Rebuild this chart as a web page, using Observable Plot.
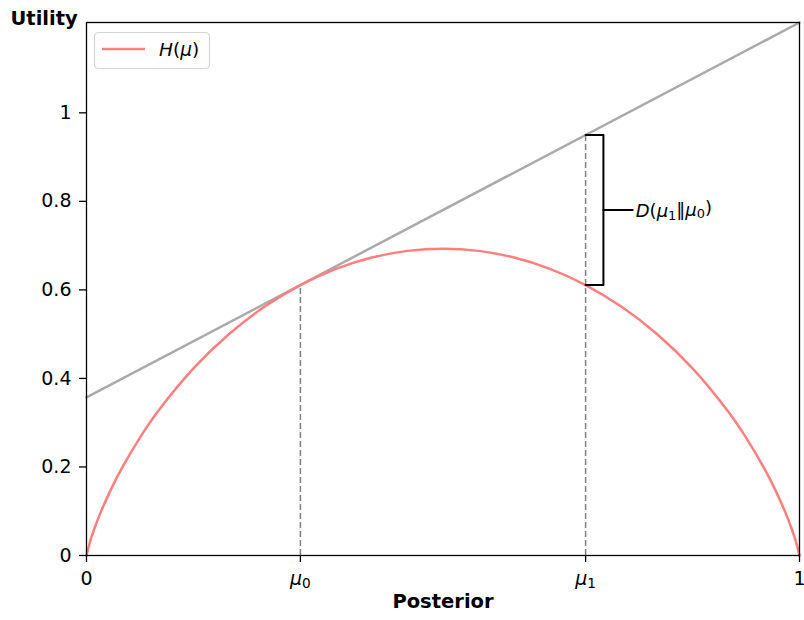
<!DOCTYPE html>
<html>
<head>
<meta charset="utf-8">
<script src="https://cdn.jsdelivr.net/npm/d3@7"></script>
<script src="https://cdn.jsdelivr.net/npm/@observablehq/plot@0.6"></script>
<style>
  html, body { margin: 0; padding: 0; background: white; }
  #chart { width: 804px; height: 620px; }
</style>
</head>
<body>
<div id="chart"></div>
<script>
// ---- data ----
const curveX = [0, 0.005, 0.01, 0.02, 0.035, 0.05, 0.075, 0.1, 0.15, 0.2, 0.25, 0.3, 0.35, 0.4, 0.45, 0.5,
                0.55, 0.6, 0.65, 0.7, 0.75, 0.8, 0.85, 0.9, 0.925, 0.95, 0.965, 0.98, 0.99, 0.995, 1];
const curveH = [0, 0.0315, 0.056, 0.098, 0.1517, 0.1985, 0.2664, 0.3251, 0.4227, 0.5004, 0.5623, 0.6109, 0.6474, 0.673, 0.6881, 0.6931,
                0.6881, 0.673, 0.6474, 0.6109, 0.5623, 0.5004, 0.4227, 0.3251, 0.2664, 0.1985, 0.1517, 0.098, 0.056, 0.0315, 0];
const tangentX = [0, 1];
const tangentY = [0.357, 1.204];
const guideX = [0.3, 0.7];
const guideTop = [0.611, 0.95];
const bracketX = [0.7, 0.725, 0.725, 0.7];
const bracketY = [0.95, 0.95, 0.611, 0.611];
const bracketTickX = [0.725, 0.766];
const bracketTickY = [0.7805, 0.7805];
const yTicks = [0, 0.2, 0.4, 0.6, 0.8, 1];
const yTickLabels = ["0", "0.2", "0.4", "0.6", "0.8", "1"];
const xTicks = [0, 0.3, 0.7, 1];
const xTickLabels = ["0", "μ0", "μ1", "1"];

const curve = curveX.map((x, i) => ({x, y: curveH[i]}));
const tangent = tangentX.map((x, i) => ({x, y: tangentY[i]}));
const guides = guideX.map((x, i) => ({x, top: guideTop[i]}));
const bracket = bracketX.map((x, i) => ({x, y: bracketY[i]}));
const bracketTick = bracketTickX.map((x, i) => ({x, y: bracketTickY[i]}));

const FONT = "DejaVu Sans";

const chart = Plot.plot({
  width: 804,
  height: 620,
  marginLeft: 86,
  marginRight: 5,
  marginTop: 22,
  marginBottom: 65,
  x: {domain: [0, 1]},
  y: {domain: [0, 1.204]},
  style: {fontFamily: FONT, fontSize: "19px", color: "black", background: "white"},
  marks: [
    Plot.ruleX(guides, {x: "x", y1: 0, y2: "top", stroke: "#7f7f7f", strokeWidth: 1.5, strokeDasharray: "6,3"}),
    Plot.line(tangent, {x: "x", y: "y", stroke: "#aaaaaa", strokeWidth: 2.5}),
    Plot.line(curve, {x: "x", y: "y", stroke: "#ff7f7f", strokeWidth: 2.5, curve: "catmull-rom"}),
    Plot.line(bracket, {x: "x", y: "y", stroke: "black", strokeWidth: 2}),
    Plot.line(bracketTick, {x: "x", y: "y", stroke: "black", strokeWidth: 2}),
    Plot.frame({stroke: "black", strokeWidth: 1.3}),
    Plot.axisX({ticks: xTicks, tickFormat: d => xTickLabels[xTicks.indexOf(d)], tickSize: 7, tickPadding: 9, label: null, fontSize: 19, stroke: "black", strokeWidth: 1.3}),
    Plot.axisY({ticks: yTicks, tickFormat: d => yTickLabels[yTicks.indexOf(d)], tickSize: 7, tickPadding: 8, label: null, fontSize: 19, stroke: "black", strokeWidth: 1.3}),
    Plot.text(["Utility"], {text: d => d, frameAnchor: "top-left", dx: -76, dy: -11, textAnchor: "start", fontWeight: "bold", fontSize: 19.5}),
    Plot.text(["Posterior"], {text: d => d, frameAnchor: "bottom", dy: 52, fontWeight: "bold", fontSize: 19.5})
  ]
});

document.getElementById("chart").appendChild(chart);

const svg = d3.select(chart);
const xs = chart.scale("x"), ys = chart.scale("y");

// math-style tick labels (italic μ with subscript)
svg.selectAll("text").each(function() {
  const t = this.textContent;
  if (t === "μ0" || t === "μ1") {
    const el = d3.select(this);
    el.text(null);
    el.append("tspan").attr("font-style", "italic").text("μ");
    el.append("tspan").attr("dy", "0.25em").attr("font-size", "0.72em").text(t.slice(1));
  }
});

// annotation D(μ1‖μ0)
const ann = svg.append("text")
  .attr("x", xs.apply(0.771))
  .attr("y", ys.apply(0.7805))
  .attr("dy", "0.4em")
  .attr("text-anchor", "start")
  .attr("font-family", FONT)
  .attr("font-size", 18)
  .attr("fill", "black");
ann.append("tspan").attr("font-style", "italic").text("D");
ann.append("tspan").text("(");
ann.append("tspan").attr("font-style", "italic").text("μ");
ann.append("tspan").attr("dy", "0.22em").attr("font-size", "0.72em").text("1");
ann.append("tspan").attr("dy", "-0.22em").text("‖");
ann.append("tspan").attr("font-style", "italic").text("μ");
ann.append("tspan").attr("dy", "0.22em").attr("font-size", "0.72em").text("0");
ann.append("tspan").attr("dy", "-0.22em").text(")");

// legend
const lg = svg.append("g");
lg.append("rect").attr("x", 94.5).attr("y", 32.5).attr("width", 115).attr("height", 36).attr("rx", 4)
  .attr("fill", "white").attr("fill-opacity", 0.85).attr("stroke", "#d3d3d3").attr("stroke-width", 1.2);
lg.append("line").attr("x1", 102).attr("x2", 145).attr("y1", 49).attr("y2", 49)
  .attr("stroke", "#ff7f7f").attr("stroke-width", 2.5);
const lt = lg.append("text").attr("x", 159).attr("y", 55.5).attr("text-anchor", "start")
  .attr("font-family", FONT).attr("font-size", 18.5).attr("fill", "black");
lt.append("tspan").attr("font-style", "italic").text("H");
lt.append("tspan").text("(");
lt.append("tspan").attr("font-style", "italic").text("μ");
lt.append("tspan").text(")");
</script>
</body>
</html>
